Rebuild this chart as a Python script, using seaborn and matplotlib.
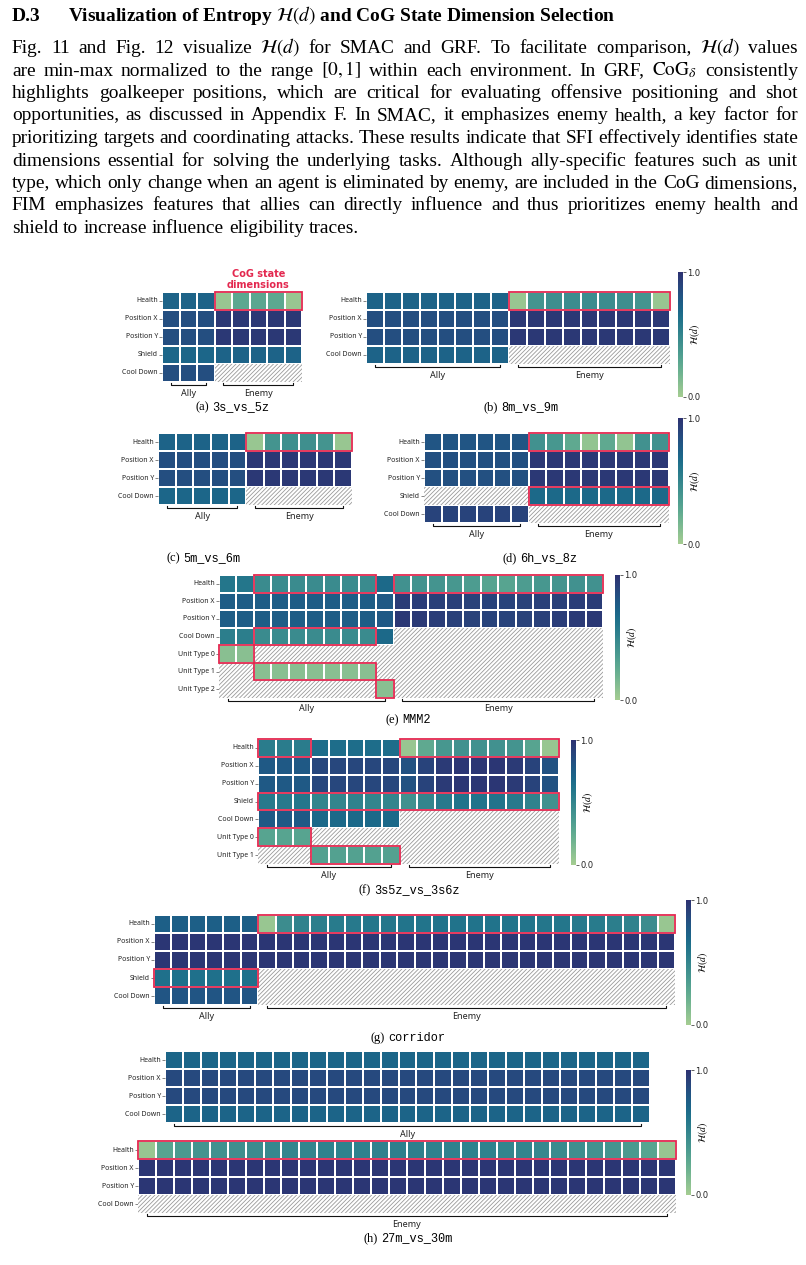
import numpy as np
import pandas as pd
import seaborn as sns
import matplotlib.pyplot as plt
from matplotlib.patches import Rectangle

nan = np.nan

# ---------------- DATA: normalized entropy H(d) per state dimension ----------------
# NaN marks a feature that does not exist for that unit (hatched cell)
# cog lists: (row index, first column, end column) of the CoG state dimensions

# (a) 3s_vs_5z
a_rows = ['Health', 'Position X', 'Position Y', 'Shield', 'Cool Down']
a_ally = [[0.72, 0.72, 0.72],
          [0.84, 0.84, 0.84],
          [0.84, 0.84, 0.84],
          [0.70, 0.70, 0.70],
          [0.84, 0.84, 0.84]]
a_enemy = [[0.05, 0.27, 0.28, 0.27, 0.05],
           [0.96, 0.96, 0.96, 0.96, 0.96],
           [0.96, 0.96, 0.96, 0.96, 0.96],
           [0.72, 0.72, 0.72, 0.72, 0.72],
           [nan, nan, nan, nan, nan]]
a_cog = [(0, 3, 8)]

# (b) 8m_vs_9m
b_rows = ['Health', 'Position X', 'Position Y', 'Cool Down']
b_ally = [[0.72, 0.72, 0.72, 0.72, 0.72, 0.72, 0.72, 0.72],
          [0.84, 0.84, 0.84, 0.84, 0.84, 0.84, 0.84, 0.84],
          [0.84, 0.84, 0.84, 0.84, 0.84, 0.84, 0.84, 0.84],
          [0.72, 0.72, 0.72, 0.72, 0.72, 0.72, 0.72, 0.72]]
b_enemy = [[0.05, 0.40, 0.44, 0.45, 0.45, 0.45, 0.44, 0.40, 0.05],
           [0.96, 0.96, 0.96, 0.96, 0.96, 0.96, 0.96, 0.96, 0.96],
           [0.96, 0.96, 0.96, 0.96, 0.96, 0.96, 0.96, 0.96, 0.96],
           [nan, nan, nan, nan, nan, nan, nan, nan, nan]]
b_cog = [(0, 8, 17)]

# (c) 5m_vs_6m
c_rows = ['Health', 'Position X', 'Position Y', 'Cool Down']
c_ally = [[0.72, 0.72, 0.72, 0.72, 0.72],
          [0.84, 0.84, 0.84, 0.84, 0.84],
          [0.84, 0.84, 0.84, 0.84, 0.84],
          [0.70, 0.70, 0.70, 0.70, 0.70]]
c_enemy = [[0.05, 0.40, 0.43, 0.43, 0.40, 0.05],
           [0.96, 0.96, 0.96, 0.96, 0.96, 0.96],
           [0.96, 0.96, 0.96, 0.96, 0.96, 0.96],
           [nan, nan, nan, nan, nan, nan]]
c_cog = [(0, 5, 11)]

# (d) 6h_vs_8z
d_rows = ['Health', 'Position X', 'Position Y', 'Shield', 'Cool Down']
d_ally = [[0.80, 0.80, 0.80, 0.80, 0.80, 0.80],
          [0.83, 0.83, 0.83, 0.83, 0.83, 0.83],
          [0.83, 0.83, 0.83, 0.83, 0.83, 0.83],
          [nan, nan, nan, nan, nan, nan],
          [0.90, 0.90, 0.90, 0.90, 0.90, 0.90]]
d_enemy = [[0.42, 0.38, 0.26, 0.07, 0.26, 0.07, 0.42, 0.42],
           [0.96, 0.96, 0.96, 0.96, 0.96, 0.96, 0.96, 0.96],
           [0.96, 0.96, 0.96, 0.96, 0.96, 0.96, 0.96, 0.96],
           [0.68, 0.68, 0.68, 0.68, 0.68, 0.68, 0.68, 0.68],
           [nan, nan, nan, nan, nan, nan, nan, nan]]
d_cog = [(0, 6, 14), (3, 6, 14)]

# (e) MMM2
e_rows = ['Health', 'Position X', 'Position Y', 'Cool Down',
          'Unit Type 0', 'Unit Type 1', 'Unit Type 2']
e_ally = [[0.60, 0.60, 0.46, 0.46, 0.46, 0.46, 0.46, 0.46, 0.46, 0.68],
          [0.75, 0.75, 0.75, 0.75, 0.75, 0.75, 0.75, 0.75, 0.75, 0.78],
          [0.75, 0.75, 0.75, 0.75, 0.75, 0.75, 0.75, 0.75, 0.75, 0.78],
          [0.55, 0.55, 0.46, 0.46, 0.46, 0.46, 0.46, 0.46, 0.46, 0.68],
          [0.10, 0.10, nan, nan, nan, nan, nan, nan, nan, nan],
          [nan, nan, 0.10, 0.10, 0.10, 0.10, 0.10, 0.10, 0.10, nan],
          [nan, nan, nan, nan, nan, nan, nan, nan, nan, 0.10]]
e_enemy = [[0.42, 0.41, 0.40, 0.38, 0.35, 0.30, 0.30, 0.35, 0.38, 0.40, 0.42, 0.42],
           [0.94, 0.93, 0.92, 0.92, 0.91, 0.90, 0.90, 0.91, 0.92, 0.92, 0.93, 0.94],
           [0.96, 0.95, 0.93, 0.92, 0.91, 0.90, 0.90, 0.91, 0.92, 0.93, 0.95, 0.96],
           [nan, nan, nan, nan, nan, nan, nan, nan, nan, nan, nan, nan],
           [nan, nan, nan, nan, nan, nan, nan, nan, nan, nan, nan, nan],
           [nan, nan, nan, nan, nan, nan, nan, nan, nan, nan, nan, nan],
           [nan, nan, nan, nan, nan, nan, nan, nan, nan, nan, nan, nan]]
e_cog = [(0, 2, 9), (0, 10, 22), (3, 2, 9), (4, 0, 2), (5, 2, 9), (6, 9, 10)]

# (f) 3s5z_vs_3s6z
f_rows = ['Health', 'Position X', 'Position Y', 'Shield', 'Cool Down',
          'Unit Type 0', 'Unit Type 1']
f_ally = [[0.56, 0.56, 0.56, 0.66, 0.66, 0.66, 0.66, 0.66],
          [0.78, 0.78, 0.78, 0.88, 0.88, 0.88, 0.88, 0.88],
          [0.78, 0.78, 0.78, 0.88, 0.88, 0.88, 0.88, 0.88],
          [0.58, 0.58, 0.60, 0.50, 0.50, 0.52, 0.50, 0.50],
          [0.78, 0.78, 0.78, 0.68, 0.68, 0.68, 0.68, 0.68],
          [0.30, 0.30, 0.30, nan, nan, nan, nan, nan],
          [nan, nan, nan, 0.32, 0.32, 0.32, 0.32, 0.32]]
f_enemy = [[0.05, 0.26, 0.38, 0.42, 0.42, 0.42, 0.40, 0.30, 0.05],
           [0.82, 0.90, 0.95, 0.97, 0.97, 0.97, 0.95, 0.90, 0.82],
           [0.82, 0.90, 0.95, 0.97, 0.97, 0.97, 0.95, 0.90, 0.82],
           [0.42, 0.50, 0.58, 0.62, 0.62, 0.62, 0.58, 0.52, 0.42],
           [nan, nan, nan, nan, nan, nan, nan, nan, nan],
           [nan, nan, nan, nan, nan, nan, nan, nan, nan],
           [nan, nan, nan, nan, nan, nan, nan, nan, nan]]
f_cog = [(0, 0, 3), (0, 8, 17), (3, 0, 17), (5, 0, 3), (6, 3, 8)]

# (g) corridor
g_rows = ['Health', 'Position X', 'Position Y', 'Shield', 'Cool Down']
g_ally = [[0.74, 0.74, 0.74, 0.74, 0.74, 0.74],
          [0.97, 0.97, 0.97, 0.97, 0.97, 0.97],
          [0.97, 0.97, 0.97, 0.97, 0.97, 0.97],
          [0.64, 0.64, 0.64, 0.64, 0.64, 0.64],
          [0.80, 0.80, 0.80, 0.80, 0.80, 0.80]]
g_enemy = [[0.05, 0.45, 0.52, 0.55, 0.57, 0.58, 0.60, 0.60, 0.61, 0.61, 0.62, 0.62,
            0.62, 0.62, 0.61, 0.61, 0.60, 0.60, 0.58, 0.57, 0.55, 0.52, 0.45, 0.05],
           [0.97, 0.97, 0.97, 0.97, 0.97, 0.97, 0.97, 0.97, 0.97, 0.97, 0.97, 0.97,
            0.97, 0.97, 0.97, 0.97, 0.97, 0.97, 0.97, 0.97, 0.97, 0.97, 0.97, 0.97],
           [0.97, 0.97, 0.97, 0.97, 0.97, 0.97, 0.97, 0.97, 0.97, 0.97, 0.97, 0.97,
            0.97, 0.97, 0.97, 0.97, 0.97, 0.97, 0.97, 0.97, 0.97, 0.97, 0.97, 0.97],
           [nan, nan, nan, nan, nan, nan, nan, nan, nan, nan, nan, nan,
            nan, nan, nan, nan, nan, nan, nan, nan, nan, nan, nan, nan],
           [nan, nan, nan, nan, nan, nan, nan, nan, nan, nan, nan, nan,
            nan, nan, nan, nan, nan, nan, nan, nan, nan, nan, nan, nan]]
g_cog = [(0, 6, 30), (3, 0, 6)]

# (h) 27m_vs_30m  (ally and enemy drawn as two grids)
h_rows = ['Health', 'Position X', 'Position Y', 'Cool Down']
h_ally = [[0.70, 0.70, 0.70, 0.70, 0.70, 0.70, 0.70, 0.70, 0.70, 0.70, 0.70, 0.70, 0.70, 0.70,
           0.70, 0.70, 0.70, 0.70, 0.70, 0.70, 0.70, 0.70, 0.70, 0.70, 0.70, 0.70, 0.70],
          [0.87, 0.87, 0.87, 0.87, 0.87, 0.87, 0.87, 0.87, 0.87, 0.87, 0.87, 0.87, 0.87, 0.87,
           0.87, 0.87, 0.87, 0.87, 0.87, 0.87, 0.87, 0.87, 0.87, 0.87, 0.87, 0.87, 0.87],
          [0.87, 0.87, 0.87, 0.87, 0.87, 0.87, 0.87, 0.87, 0.87, 0.87, 0.87, 0.87, 0.87, 0.87,
           0.87, 0.87, 0.87, 0.87, 0.87, 0.87, 0.87, 0.87, 0.87, 0.87, 0.87, 0.87, 0.87],
          [0.71, 0.71, 0.71, 0.71, 0.71, 0.71, 0.71, 0.71, 0.71, 0.71, 0.71, 0.71, 0.71, 0.71,
           0.71, 0.71, 0.71, 0.71, 0.71, 0.71, 0.71, 0.71, 0.71, 0.71, 0.71, 0.71, 0.71]]
h_enemy = [[0.05, 0.30, 0.36, 0.40, 0.42, 0.44, 0.46, 0.48, 0.50, 0.50,
            0.52, 0.52, 0.53, 0.53, 0.54, 0.54, 0.53, 0.53, 0.52, 0.52,
            0.50, 0.50, 0.48, 0.46, 0.44, 0.42, 0.40, 0.36, 0.30, 0.05],
           [0.97, 0.97, 0.97, 0.97, 0.97, 0.97, 0.97, 0.97, 0.97, 0.97,
            0.97, 0.97, 0.97, 0.97, 0.97, 0.97, 0.97, 0.97, 0.97, 0.97,
            0.97, 0.97, 0.97, 0.97, 0.97, 0.97, 0.97, 0.97, 0.97, 0.97],
           [0.97, 0.97, 0.97, 0.97, 0.97, 0.97, 0.97, 0.97, 0.97, 0.97,
            0.97, 0.97, 0.97, 0.97, 0.97, 0.97, 0.97, 0.97, 0.97, 0.97,
            0.97, 0.97, 0.97, 0.97, 0.97, 0.97, 0.97, 0.97, 0.97, 0.97],
           [nan, nan, nan, nan, nan, nan, nan, nan, nan, nan,
            nan, nan, nan, nan, nan, nan, nan, nan, nan, nan,
            nan, nan, nan, nan, nan, nan, nan, nan, nan, nan]]
h_cog_enemy = [(0, 0, 30)]

# ---------------- text ----------------
heading_num = 'D.3'
heading = r'Visualization of Entropy $\mathcal{H}(d)$ and CoG State Dimension Selection'
body_lines = [
    r'Fig. 11 and Fig. 12 visualize $\mathcal{H}(d)$ for SMAC and GRF. To facilitate comparison, $\mathcal{H}(d)$ values',
    r'are min-max normalized to the range $[0,1]$ within each environment. In GRF, $\mathrm{CoG}_\delta$ consistently',
    'highlights goalkeeper positions, which are critical for evaluating offensive positioning and shot',
    'opportunities, as discussed in Appendix F. In SMAC, it emphasizes enemy health, a key factor for',
    'prioritizing targets and coordinating attacks. These results indicate that SFI effectively identifies state',
    'dimensions essential for solving the underlying tasks. Although ally-specific features such as unit',
    'type, which only change when an agent is eliminated by enemy, are included in the CoG dimensions,',
    'FIM emphasizes features that allies can directly influence and thus prioritizes enemy health and',
    'shield to increase influence eligibility traces.',
]

# ---------------- style ----------------
plt.rcParams['mathtext.fontset'] = 'stix'
plt.rcParams['hatch.linewidth'] = 0.6
CMAP = sns.color_palette('crest', as_cmap=True)
RED = '#e3284f'
HATCH = '#9a9a9a'
SANS = 'Noto Sans'
SERIF = 'Liberation Serif'
MONO = 'Liberation Mono'

W, H = 806, 1265
fig = plt.figure(figsize=(W / 100, H / 100), dpi=100)
fig.patch.set_facecolor('white')
rend = fig.canvas.get_renderer()


def px_ax(l, t, r, b):
    return fig.add_axes([l / W, 1 - b / H, (r - l) / W, (b - t) / H])


def heat(ax, rows, mat, cog, cax=None):
    df = pd.DataFrame(np.array(mat, dtype=float), index=rows)
    sns.heatmap(df, ax=ax, cmap=CMAP, vmin=0, vmax=1, mask=df.isna(),
                linewidths=1.2, linecolor='white',
                xticklabels=False, yticklabels=True,
                cbar=cax is not None, cbar_ax=cax,
                cbar_kws={'ticks': [0, 1]})
    ax.set_yticklabels(rows, rotation=0, fontsize=5, color='#222222', family=SANS)
    ax.tick_params(axis='y', length=2, width=0.5, pad=1, color='#555555')
    ax.set_xlabel('')
    ax.set_ylabel('')
    arr = df.to_numpy()
    nr, nc = arr.shape
    for r in range(nr):
        c = 0
        while c < nc:
            if np.isnan(arr[r, c]):
                c0 = c
                while c < nc and np.isnan(arr[r, c]):
                    c += 1
                ax.add_patch(Rectangle((c0, r), c - c0, 1, facecolor='white',
                                       edgecolor=HATCH, hatch='/' * 8, lw=0, zorder=3))
            else:
                c += 1
    for r, c0, c1 in cog:
        ax.add_patch(Rectangle((c0, r), c1 - c0, 1, fill=False, edgecolor=RED,
                               lw=1.3, zorder=6, clip_on=False))
    if cax is not None:
        cb = ax.collections[0].colorbar
        cb.set_ticklabels(['0.0', '1.0'])
        cb.outline.set_visible(False)
        cax.tick_params(labelsize=6, length=2, width=0.5, pad=1, colors='#222222')
        cb.set_label(r'$\mathcal{H}(d)$', fontsize=7, labelpad=-9)
    return nr


def bracket(ax, c0, c1, nr, label):
    y = nr + 0.17
    ax.plot([c0 + 0.5, c0 + 0.5, c1 - 0.5, c1 - 0.5], [y - 0.13, y, y, y - 0.13],
            color='#111111', lw=0.8, clip_on=False, zorder=7)
    ax.text((c0 + c1) / 2, y + 0.45, label, ha='center', va='center',
            fontsize=6.5, family=SANS, color='#222222', clip_on=False)


def tw(s, **kw):
    t = fig.text(0, 0, s, **kw)
    w = t.get_window_extent(rend).width
    t.remove()
    return w


def caption(xc, yb, tag, name):
    w1 = tw(tag, family=SERIF, fontsize=9)
    w2 = tw(name, family=MONO, fontsize=8.6)
    gap = 3
    x0 = xc - (w1 + gap + w2) / 2
    fig.text(x0 / W, 1 - yb / H, tag, family=SERIF, fontsize=9, va='baseline')
    fig.text((x0 + w1 + gap) / W, 1 - yb / H, name, family=MONO, fontsize=8.6, va='baseline')


def panel(box, rows, ally, enemy, cog, tag, name, cap_xy, cbar_box=None):
    ax = px_ax(*box)
    cax = px_ax(*cbar_box) if cbar_box else None
    na = len(ally[0])
    mat = [list(ra) + list(re) for ra, re in zip(ally, enemy)]
    nr = heat(ax, rows, mat, cog, cax)
    bracket(ax, 0, na, nr, 'Ally')
    bracket(ax, na, len(mat[0]), nr, 'Enemy')
    caption(cap_xy[0], cap_xy[1], tag, name)
    return ax


ax_a = panel((162, 292, 302, 382), a_rows, a_ally, a_enemy, a_cog, '(a)', '3s_vs_5z', (232, 410))
ax_a.text(5.5, -0.1, 'CoG state\ndimensions', ha='center', va='bottom', color=RED,
          fontsize=7, fontweight='bold', family='DejaVu Sans', linespacing=1.15)
panel((366, 292, 670, 364), b_rows, b_ally, b_enemy, b_cog, '(b)', '8m_vs_9m', (521, 410),
      (678, 272, 683, 397))
panel((158, 433, 352, 505), c_rows, c_ally, c_enemy, c_cog, '(c)', '5m_vs_6m', (203, 561))
panel((424, 433, 669, 523), d_rows, d_ally, d_enemy, d_cog, '(d)', '6h_vs_8z', (540, 561),
      (678, 418, 683, 544))
panel((219, 575, 603, 698), e_rows, e_ally, e_enemy, e_cog, '(e)', 'MMM2', (408, 723),
      (615, 575, 620, 700))
panel((258, 739, 559, 864), f_rows, f_ally, f_enemy, f_cog, '(f)', '3s5z_vs_3s6z', (409, 893),
      (571, 740, 576, 865))
panel((154, 915, 675, 1005), g_rows, g_ally, g_enemy, g_cog, '(g)', 'corridor', (408, 1041),
      (686, 900, 691, 1025))

# (h) two separate grids sharing one colour bar
ax_h1 = px_ax(165, 1051, 650, 1123)
nr = heat(ax_h1, h_rows, h_ally, [])
bracket(ax_h1, 0, len(h_ally[0]), nr, 'Ally')
ax_h2 = px_ax(138, 1141, 676, 1213)
nr = heat(ax_h2, h_rows, h_enemy, h_cog_enemy, px_ax(686, 1070, 691, 1195))
bracket(ax_h2, 0, len(h_enemy[0]), nr, 'Enemy')
caption(408, 1241, '(h)', '27m_vs_30m')

# ---------------- page text ----------------
hw = tw(heading, family=SERIF, fontweight='bold', fontsize=10)
hs = 10 * (617 - 68) / hw
fig.text(12 / W, 1 - 21 / H, heading_num, family=SERIF, fontweight='bold', fontsize=hs, va='baseline')
fig.text(68 / W, 1 - 21 / H, heading, family=SERIF, fontweight='bold', fontsize=hs, va='baseline')

space10 = tw('a b', family=SERIF, fontsize=10) - tw('ab', family=SERIF, fontsize=10)
nat = [sum(tw(w, family=SERIF, fontsize=10) for w in ln.split(' ')) + space10 * (len(ln.split(' ')) - 1)
       for ln in body_lines]
bs = 10 * 790 / max(nat)
for i, ln in enumerate(body_lines):
    words = ln.split(' ')
    ws = [tw(w, family=SERIF, fontsize=bs) for w in words]
    yb = 53 + i * 22.5
    if i < len(body_lines) - 1:
        gap = (798 - 12 - sum(ws)) / (len(words) - 1)
    else:
        gap = space10 * bs / 10
    x = 12
    for w, wd in zip(words, ws):
        fig.text(x / W, 1 - yb / H, w, family=SERIF, fontsize=bs, va='baseline')
        x += wd + gap

fig.savefig('out.png', dpi=100, facecolor='white')
